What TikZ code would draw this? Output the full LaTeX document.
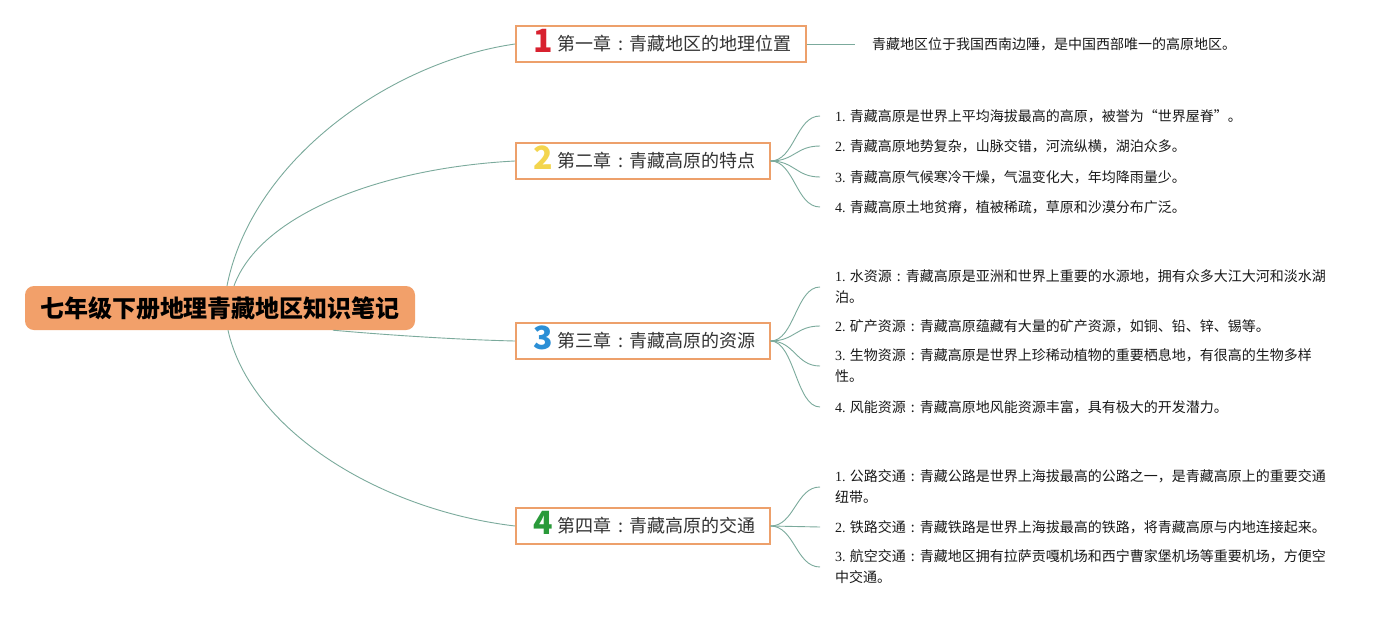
\documentclass[tikz,border=0pt]{standalone}
\usepackage{fontspec}
\setmainfont{Liberation Serif}
\newfontfamily\cjk{Noto Sans CJK SC}
\definecolor{linec}{HTML}{7BAA9C}
\definecolor{boxc}{HTML}{EDA06B}
\definecolor{rootc}{HTML}{F2A06A}
\definecolor{nred}{HTML}{D8212F}
\definecolor{nyel}{HTML}{F3D54E}
\definecolor{nblue}{HTML}{2B8FD6}
\definecolor{ngreen}{HTML}{2A9A3A}
\definecolor{txt}{HTML}{333333}
\newcommand\chnum[2]{\makebox[15pt][c]{\smash{\raisebox{-2pt}{\color{#1}\fontsize{32}{32}\selectfont\bfseries #2}}}\hspace{7pt}}
\newcommand\cc{\makebox[1em][c]{:}}
\newcommand\chend{\kern-6pt\relax}
\begin{document}
\begin{tikzpicture}[x=1pt,y=-1pt,
  rootbox/.style={fill=rootc, rounded corners=9pt, minimum width=390pt, minimum height=44pt, inner sep=0pt, font=\cjk\bfseries\fontsize{24}{28}\selectfont, text=black},
  chap/.style={draw=boxc, line width=1.5pt, fill=white, minimum height=36pt, inner xsep=20pt, inner ysep=0pt, anchor=west, font=\cjk\fontsize{18}{22}\selectfont, text=txt},
  leaf/.style={anchor=west, inner xsep=15pt, inner ysep=0pt, align=left, font=\cjk\fontsize{14}{21}\selectfont, text=black!90},
  leafone/.style={leaf, inner xsep=17pt},
  conn/.style={draw=linec, line width=0.9pt}]
\fill[white] (0,0) rectangle (1395,616);
\useasboundingbox (0,0) rectangle (1395,616);

\node[rootbox] (root) at (220,308) {七年级下册地理青藏地区知识笔记};

\node[chap] (c1) at (515,44) {\chnum{nred}{1}第一章\cc 青藏地区的地理位置\chend};
\node[chap] (c2) at (515,161) {\chnum{nyel}{2}第二章\cc 青藏高原的特点\chend};
\node[chap] (c3) at (515,341) {\chnum{nblue}{3}第三章\cc 青藏高原的资源\chend};
\node[chap] (c4) at (515,526) {\chnum{ngreen}{4}第四章\cc 青藏高原的交通\chend};

\node[leafone] (l11) at (855,44) {青藏地区位于我国西南边陲，是中国西部唯一的高原地区。};

\node[leaf] (l21) at (820,116) {{\rmfamily 1.} 青藏高原是世界上平均海拔最高的高原，被誉为“世界屋脊”。};
\node[leaf] (l22) at (820,146) {{\rmfamily 2.} 青藏高原地势复杂，山脉交错，河流纵横，湖泊众多。};
\node[leaf] (l23) at (820,177) {{\rmfamily 3.} 青藏高原气候寒冷干燥，气温变化大，年均降雨量少。};
\node[leaf] (l24) at (820,207) {{\rmfamily 4.} 青藏高原土地贫瘠，植被稀疏，草原和沙漠分布广泛。};

\node[leaf] (l31) at (820,287) {{\rmfamily 1.} 水资源\cc 青藏高原是亚洲和世界上重要的水源地，拥有众多大江大河和淡水湖\\泊。};
\node[leaf] (l32) at (820,326) {{\rmfamily 2.} 矿产资源\cc 青藏高原蕴藏有大量的矿产资源，如铜、铅、锌、锡等。};
\node[leaf] (l33) at (820,366) {{\rmfamily 3.} 生物资源\cc 青藏高原是世界上珍稀动植物的重要栖息地，有很高的生物多样\\性。};
\node[leaf] (l34) at (820,407) {{\rmfamily 4.} 风能资源\cc 青藏高原地风能资源丰富，具有极大的开发潜力。};

\node[leaf] (l41) at (820,487) {{\rmfamily 1.} 公路交通\cc 青藏公路是世界上海拔最高的公路之一，是青藏高原上的重要交通\\纽带。};
\node[leaf] (l42) at (820,527) {{\rmfamily 2.} 铁路交通\cc 青藏铁路是世界上海拔最高的铁路，将青藏高原与内地连接起来。};
\node[leaf] (l43) at (820,567) {{\rmfamily 3.} 航空交通\cc 青藏地区拥有拉萨贡嘎机场和西宁曹家堡机场等重要机场，方便空\\中交通。};

% root to chapters
\draw[conn] ([xshift=7pt]root.north) .. controls +(25,-126) and +(-125,18) .. (c1.west);
\draw[conn] ([xshift=14pt]root.north) .. controls +(26,-71) and +(-135,7) .. (c2.west);
\draw[conn] ([xshift=113pt]root.south) .. controls +(67,6) and +(-45,-1) .. (c3.west);
\draw[conn] ([xshift=8pt]root.south) .. controls +(22,100) and +(-135,-16) .. (c4.west);

% chapters to leaves
\draw[conn] (c1.east) -- (l11.west);
\foreach \l in {l21,l22,l23,l24}
  \draw[conn] (c2.east) .. controls +(24,0) and +(-24,0) .. (\l.west);
\foreach \l in {l31,l32,l33,l34}
  \draw[conn] (c3.east) .. controls +(24,0) and +(-24,0) .. (\l.west);
\foreach \l in {l41,l42,l43}
  \draw[conn] (c4.east) .. controls +(24,0) and +(-24,0) .. (\l.west);
\end{tikzpicture}
\end{document}
